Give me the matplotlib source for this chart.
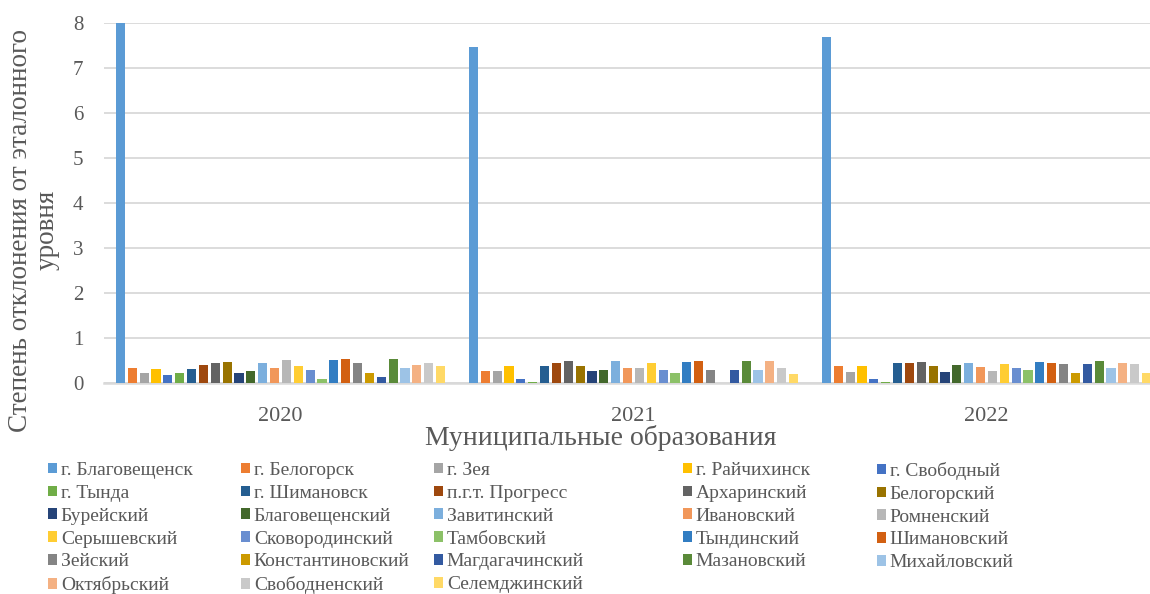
import matplotlib
matplotlib.use("Agg")
import matplotlib.pyplot as plt
import numpy as np

plt.rcParams['font.family'] = ['Liberation Serif', 'DejaVu Serif']

years = ['2020', '2021', '2022']
names = ['г. Благовещенск', 'г. Белогорск', 'г. Зея', 'г. Райчихинск', 'г. Свободный',
         'г. Тында', 'г. Шимановск', 'п.г.т. Прогресс', 'Архаринский', 'Белогорский',
         'Бурейский', 'Благовещенский', 'Завитинский', 'Ивановский', 'Ромненский',
         'Серышевский', 'Сковородинский', 'Тамбовский', 'Тындинский', 'Шимановский',
         'Зейский', 'Константиновский', 'Магдагачинский', 'Мазановский', 'Михайловский',
         'Октябрьский', 'Свободненский', 'Селемджинский']

v2020 = [8.00, 0.33, 0.23, 0.32, 0.17, 0.22, 0.31, 0.39, 0.44, 0.47,
         0.22, 0.27, 0.44, 0.33, 0.52, 0.37, 0.28, 0.09, 0.51, 0.54,
         0.45, 0.23, 0.13, 0.53, 0.34, 0.39, 0.44, 0.38]
v2021 = [7.46, 0.26, 0.27, 0.38, 0.10, 0.02, 0.38, 0.45, 0.49, 0.38,
         0.27, 0.28, 0.49, 0.34, 0.34, 0.44, 0.30, 0.22, 0.47, 0.49,
         0.30, 0.00, 0.29, 0.49, 0.29, 0.50, 0.33, 0.20]
v2022 = [7.69, 0.38, 0.25, 0.38, 0.08, 0.02, 0.45, 0.45, 0.47, 0.38,
         0.25, 0.41, 0.44, 0.36, 0.27, 0.42, 0.33, 0.30, 0.47, 0.45,
         0.42, 0.23, 0.42, 0.50, 0.34, 0.45, 0.42, 0.22]

colors = ['#5B9BD5', '#ED7D31', '#A5A5A5', '#FFC000', '#4472C4', '#70AD47',
          '#255E91', '#9E480E', '#636363', '#997300', '#264478', '#43682B',
          '#7CAFDD', '#F1975A', '#B7B7B7', '#FFCD33', '#698ED0', '#8CC168',
          '#327DC2', '#D26012', '#848484', '#CC9A00', '#335AA1', '#5A8A39',
          '#9DC3E6', '#F4B183', '#C9C9C9', '#FFD966']

txt = '#595959'
W, H = 1150, 594
fig = plt.figure(figsize=(W / 100, H / 100), dpi=100)
ax = fig.add_axes([104 / W, (H - 383) / H, (1163 - 104) / W, 360 / H])

data = np.array([v2020, v2021, v2022])
x = np.arange(len(years))
n = len(names)
slot = 0.0336
bw = 0.026
handles = []
for j in range(n):
    off = (j - (n - 1) / 2) * slot
    b = ax.bar(x + off, data[:, j], width=bw, color=colors[j], label=names[j], zorder=3)
    handles.append(b)

ax.set_xlim(-0.5, 2.5)
ax.set_ylim(0, 8)
ax.set_yticks(range(0, 9))
ax.set_xticks(x)
ax.set_xticklabels(years)
ax.grid(axis='y', color='#D9D9D9', lw=1.3, zorder=0)
for s in ['top', 'right', 'left']:
    ax.spines[s].set_visible(False)
ax.spines['bottom'].set_color('#D9D9D9')
ax.spines['bottom'].set_linewidth(1.8)
ax.tick_params(axis='y', length=0, pad=15, labelsize=15, labelcolor=txt)
ax.tick_params(axis='x', length=0, pad=17, labelsize=16, labelcolor=txt)

fig.text(601 / W, 1 - 438 / H, 'Муниципальные образования', ha='center', va='center',
         fontsize=20, color=txt)
fig.text(34 / W, 1 - 230 / H, 'Степень отклонения от эталонного\nуровня', ha='center',
         va='center', rotation=90, fontsize=19.5, color=txt, multialignment='center',
         linespacing=1.12)

col_x = [48, 241, 434, 683, 877]
for c in range(5):
    idx = list(range(c, n, 5))
    leg = fig.legend([handles[i] for i in idx], [names[i] for i in idx],
                     loc='upper left', bbox_to_anchor=(col_x[c] / W, 1 - 462 / H),
                     ncol=1, frameon=False, fontsize=14, borderpad=0, borderaxespad=0,
                     handlelength=0.46, handleheight=0.46, handletextpad=0.2,
                     labelspacing=0.30)
    for t in leg.get_texts():
        t.set_color(txt)

fig.savefig('out.png', dpi=100)
